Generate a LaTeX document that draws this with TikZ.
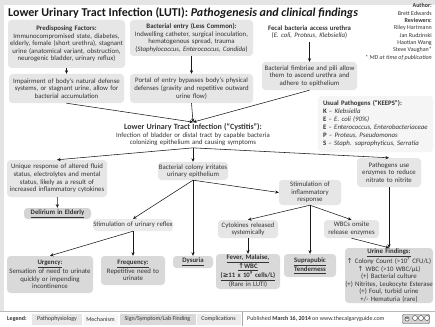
\documentclass[tikz,border=0pt]{standalone}
\usepackage{fontspec}
\setmainfont{Carlito}
\newfontfamily\symfont{DejaVu Sans}
\usetikzlibrary{arrows.meta}
\definecolor{ink}{HTML}{333333}
\definecolor{framegray}{HTML}{E4E4E4}
\definecolor{pathofill}{HTML}{E6E6E6}
\definecolor{signfill}{HTML}{D9D9D9}
\definecolor{compfill}{HTML}{D4D4D4}
\definecolor{mechfill}{HTML}{EBEBEB}
\definecolor{listfill}{HTML}{F5F5F5}
\newcommand{\up}{{\symfont ↑}}
\newcommand{\geqsym}{{\symfont ≥}}
\newcommand{\bu}[1]{\underline{\textbf{#1}}}
\begin{document}
\begin{tikzpicture}[x=1pt,y=-1pt,
  base/.style={rounded corners=3.5pt, align=center, inner sep=0pt, text=ink,
    font=\fontsize{6.8}{7.6}\selectfont},
  patho/.style={base, fill=pathofill},
  signbox/.style={base, fill=signfill},
  compbox/.style={base, fill=compfill},
  mechbox/.style={base, fill=mechfill},
  plain/.style={base, rounded corners=0pt},
  arr/.style={draw=black!90, line width=0.55pt, -{Stealth[length=3.6pt,width=3.2pt]}},
  legendbox/.style={inner sep=0pt, minimum height=11pt, text=ink,
    font=\fontsize{6}{7}\selectfont},
]
\useasboundingbox (0,0) rectangle (435,326);
% page frame and footer
\fill[framegray] (0,0) rectangle (435,326);
\fill[white] (4,5) rectangle (435,311);
\fill[white] (0,311) rectangle (435,326);
\draw[gray!55, line width=0.5pt] (0,311.5) -- (435,311.5);

% heading
\node[anchor=west, inner sep=0pt, text=black!90, font=\fontsize{12}{14}\selectfont\bfseries] (title) at (8,13)
  {Lower Urinary Tract Infection (LUTI): \textit{Pathogenesis and clinical findings}};
\node[anchor=north east, align=right, inner sep=0pt, text=ink, font=\fontsize{6}{7.3}\selectfont] (credits) at (432,3.5)
  {\textbf{Author:}\\ Brett Edwards\\ \textbf{Reviewers:}\\ Riley Hartmann\\ Jan Rudzinski\\ Haotian Wang\\ Steve Vaughan*\\ \textit{* MD at time of publication}};

% upper row
\node[patho, minimum width=117pt, minimum height=48pt, text width=117pt] (pred) at (66.5,44)
  {\textbf{Predisposing Factors:}\\ Immunocompromised state, diabetes,\\ elderly, female (short urethra), stagnant\\ urine (anatomical variant, obstruction,\\ neurogenic bladder, urinary reflux)};
\node[patho, minimum width=123pt, minimum height=36pt, text width=123pt] (entry) at (191.5,38)
  {\textbf{Bacterial entry (Less Common):}\\ Indwelling catheter, surgical inoculation,\\ hematogenous spread, trauma\\ (\textit{Staphylococcus, Enterococcus, Candida})};
\node[plain, minimum width=95pt, minimum height=20pt, text width=95pt] (fecal) at (309.5,32)
  {\textbf{Fecal bacteria access urethra}\\ (\textit{E. coli, Proteus, Klebsiella})};

\node[patho, minimum width=115pt, minimum height=29pt, text width=115pt] (impair) at (66.5,88.5)
  {Impairment of body's natural defense\\ systems, or stagnant urine, allow for\\ bacterial accumulation};
\node[patho, minimum width=123pt, minimum height=29pt, text width=123pt] (portal) at (191.5,88.5)
  {Portal of entry bypasses body's physical\\ defenses (gravity and repetitive outward\\ urine flow)};
\node[patho, minimum width=95pt, minimum height=28pt, text width=95pt] (fimb) at (309.5,76)
  {Bacterial fimbriae and pili allow\\ them to ascend urethra and\\ adhere to epithelium};

\node[base, fill=listfill, align=left, minimum width=115pt, minimum height=56pt, text width=105pt,
  font=\fontsize{6.8}{8}\selectfont] (keeps) at (375.5,124)
  {\textbf{Usual Pathogens (“KEEPS”):}\\
   \textbf{K} – \textit{Klebsiella}\\
   \textbf{E} – \textit{E. coli (90\%)}\\
   \textbf{E} – \textit{Enterococcus, Enterobacteriaceae}\\
   \textbf{P} – \textit{Proteus, Pseudomonas}\\
   \textbf{S} – \textit{Staph. saprophyticus, Serratia}};

% central condition
\node[plain, text width=200pt, inner ysep=1.5pt] (luti) at (193,135)
  {{\fontsize{8}{9}\selectfont\textbf{Lower Urinary Tract Infection (“Cystitis”):}}\\
   Infection of bladder or distal tract by capable bacteria\\ colonizing epithelium and causing symptoms};

% middle row
\node[patho, minimum width=100pt, minimum height=37pt, text width=100pt] (unique) at (57,178.5)
  {Unique response of altered fluid\\ status, electrolytes and mental\\ status, likely as a result of\\ increased inflammatory cytokines};
\node[compbox, minimum width=67pt, minimum height=11pt, text width=67pt] (delir) at (57.5,213.5)
  {\bu{Delirium in Elderly}};
\node[patho, minimum width=70pt, minimum height=18pt, text width=70pt] (colony) at (193,171)
  {Bacterial colony irritates\\ urinary epithelium};
\node[patho, minimum width=64pt, minimum height=29pt, text width=64pt] (enzymes) at (389,172.5)
  {Pathogens use\\ enzymes to reduce\\ nitrate to nitrite};
\node[patho, minimum width=62pt, minimum height=25pt, text width=62pt] (inflam) at (310,192.5)
  {Stimulation of\\ inflammatory\\ response};
\node[mechbox, minimum width=80pt, minimum height=12pt, text width=80pt] (reflex) at (133,225)
  {Stimulation of urinary reflex};
\node[patho, minimum width=60pt, minimum height=18pt, text width=60pt] (cyto) at (248,229)
  {Cytokines released\\ systemically};
\node[patho, minimum width=55pt, minimum height=18pt, text width=55pt] (wbc) at (351.5,229)
  {WBCs onsite\\ release enzymes};

% findings
\node[signbox, minimum width=86pt, minimum height=37pt, text width=86pt] (urgency) at (50,274.5)
  {\bu{Urgency:}\\ Sensation of need to urinate\\ quickly or impending\\ incontinence};
\node[signbox, minimum width=64pt, minimum height=29pt, text width=64pt] (freq) at (133,270.5)
  {\bu{Frequency:}\\ Repetitive need to\\ urinate};
\node[signbox, minimum width=40pt, minimum height=12pt, text width=40pt] (dysuria) at (193,262)
  {\bu{Dysuria}};
\node[signbox, minimum width=64pt, minimum height=35pt, text width=64pt] (fever) at (248,271.5)
  {\bu{Fever, Malaise,}\\ \bu{\up WBC}\\ \bu{(\geqsym11 x 10\textsuperscript{9} cells/L)}\\ (Rare in LUTI)};
\node[signbox, minimum width=52pt, minimum height=23pt, text width=52pt] (supra) at (310,265.5)
  {\bu{Suprapubic}\\ \bu{Tenderness}};
\node[signbox, minimum width=88pt, minimum height=55pt, text width=88pt] (urine) at (389,275.5)
  {\bu{Urine Findings:}\\
   \up\ Colony Count (>10\textsuperscript{7} CFU/L)\\
   \up\ WBC (>10 WBC/µL)\\
   (+) Bacterial culture\\
   (+) Nitrites, Leukocyte Esterase\\
   (+) Foul, turbid urine\\
   +/- Hematuria (rare)};

% connectors
\draw[arr] (pred) -- (impair);
\draw[arr] (entry) -- (portal);
\draw[arr] (fecal) -- (fimb);
\draw[arr] (impair.south) -- (luti.north);
\draw[arr] (portal.south) -- (luti.north);
\draw[arr] (fimb.south) -- (luti.north);
\draw[arr] (luti.south) -- (unique.north);
\draw[arr] (luti.south) -- (colony.north);
\draw[arr] (luti.south) -- (enzymes.north);
\draw[arr] (unique) -- (delir);
\draw[arr] (colony.south) -- (reflex.north);
\draw[arr] (colony.south) -- (dysuria.north);
\draw[arr] (colony.south) -- (inflam.west);
\draw[arr] (reflex.south) -- (urgency.north);
\draw[arr] (reflex.south) -- (freq.north);
\draw[arr] (inflam.south) -- (cyto.north);
\draw[arr] (inflam.south) -- (supra.north);
\draw[arr] (inflam.south) -- (wbc.north);
\draw[arr] (cyto) -- (fever);
\draw[arr] (enzymes) -- (urine);
\draw[arr] (wbc.south) -- (urine.north);

% footer legend
\node[legendbox, anchor=west, font=\fontsize{6}{7}\selectfont\bfseries] (lg) at (7,319) {Legend:};
\node[legendbox, fill=pathofill, minimum width=50pt] (lgpatho) at (57,319) {Pathophysiology};
\node[legendbox, fill=listfill, minimum width=34pt] (lgmech) at (100.5,319) {Mechanism};
\node[legendbox, fill=signfill, minimum width=76pt] (lgsign) at (157.5,319) {Sign/Symptom/Lab Finding};
\node[legendbox, fill=mechfill, minimum width=44pt] (lgcomp) at (218.5,319) {Complications};
\draw[gray!70, line width=0.5pt] (242,312) -- (242,326);
\node[legendbox, anchor=west] (pub) at (247,319)
  {Published \textbf{March 16, 2014} on www.thecalgaryguide.com};
% licence badge
\node[draw=black!70, fill=gray!35, rounded corners=1pt, minimum width=27pt, minimum height=9pt, inner sep=0pt] (cc) at (416,319) {};
\node[draw=black!80, fill=white, circle, inner sep=0.3pt, font=\fontsize{3.5}{4}\selectfont\bfseries] (ccmark) at (407,319) {cc};
\foreach \i/\xx in {1/415,2/421,3/427}{
  \node[draw=black!80, fill=white, circle, minimum size=5pt, inner sep=0pt] (cci\i) at (\xx,318) {};
}
\end{tikzpicture}
\end{document}
